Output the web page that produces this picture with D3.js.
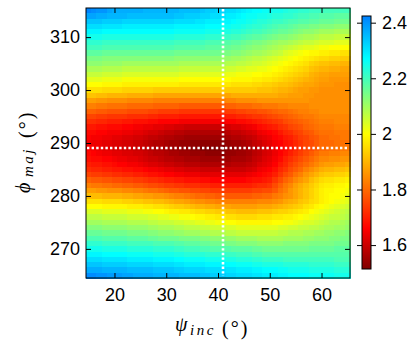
<!DOCTYPE html>
<html>
<head>
<meta charset="utf-8">
<script src="https://cdn.jsdelivr.net/npm/d3@7"></script>
<style>
body { margin: 0; background: #fff; }
svg { display: block; }
.tick text { font-family: "Liberation Sans", Arial, Helvetica, sans-serif; font-size: 18px; fill: #000; }
.tick line { stroke: #000; }
.lab { font-family: "Liberation Serif", "DejaVu Serif", serif; font-style: italic; fill: #000; }
</style>
</head>
<body>
<svg id="chart" width="415" height="349"></svg>
<script>
// grid axes (degrees)
var psiInc = [15,16,17,18,19,20,21,22,23,24,25,26,27,28,29,30,31,32,33,34,35,36,37,38,39,40,
  41,42,43,44,45,46,47,48,49,50,51,52,53,54,55,56,57,58,59,60,61,62,63,64,65];
var phiMaj = [315,314,313,312,311,310,309,308,307,306,305,304,303,302,301,300,299,298,297,296,
  295,294,293,292,291,290,289,288,287,286,285,284,283,282,281,280,279,278,277,276,275,274,273,
  272,271,270,269,268,267,266,265];

// misfit values, one row per phiMaj (top to bottom), one column per psiInc
var misfit = [
[2.42,2.41,2.40,2.40,2.38, 2.37,2.37,2.37,2.37,2.37, 2.37,2.36,2.36,2.36,2.36, 2.36,2.36,2.36,2.35,2.35, 2.35,2.35,2.34,2.33,2.33, 2.32,2.32,2.31,2.31,2.30, 2.29,2.28,2.27,2.27,2.26, 2.26,2.25,2.25,2.24,2.23, 2.23,2.22,2.22,2.21,2.21, 2.21,2.20,2.20,2.20,2.20,2.20],
[2.38,2.38,2.37,2.37,2.36, 2.36,2.36,2.36,2.35,2.35, 2.35,2.35,2.35,2.35,2.35, 2.35,2.35,2.34,2.34,2.33, 2.33,2.33,2.32,2.32,2.31, 2.31,2.30,2.29,2.29,2.28, 2.27,2.26,2.26,2.25,2.25, 2.24,2.23,2.23,2.22,2.22, 2.21,2.20,2.20,2.19,2.19, 2.18,2.18,2.18,2.17,2.17,2.17],
[2.34,2.34,2.34,2.33,2.33, 2.33,2.33,2.32,2.32,2.32, 2.32,2.32,2.32,2.32,2.32, 2.32,2.32,2.31,2.31,2.31, 2.31,2.30,2.30,2.29,2.29, 2.29,2.28,2.28,2.27,2.26, 2.26,2.25,2.24,2.23,2.23, 2.22,2.21,2.21,2.20,2.19, 2.19,2.18,2.18,2.17,2.17, 2.16,2.16,2.16,2.15,2.15,2.15],
[2.31,2.31,2.31,2.30,2.30, 2.30,2.30,2.29,2.29,2.29, 2.29,2.29,2.29,2.29,2.29, 2.29,2.29,2.28,2.28,2.28, 2.28,2.28,2.28,2.27,2.27, 2.27,2.26,2.26,2.25,2.25, 2.24,2.23,2.22,2.22,2.21, 2.20,2.19,2.18,2.18,2.17, 2.16,2.15,2.15,2.14,2.14, 2.13,2.13,2.13,2.12,2.12,2.12],
[2.28,2.28,2.28,2.27,2.27, 2.27,2.27,2.27,2.27,2.27, 2.27,2.27,2.27,2.27,2.27, 2.27,2.27,2.26,2.26,2.26, 2.26,2.26,2.26,2.25,2.25, 2.25,2.24,2.24,2.23,2.23, 2.22,2.21,2.20,2.20,2.19, 2.18,2.17,2.16,2.16,2.15, 2.14,2.13,2.12,2.12,2.11, 2.10,2.10,2.10,2.09,2.09,2.09],
[2.25,2.25,2.25,2.24,2.24, 2.24,2.24,2.24,2.24,2.24, 2.24,2.24,2.24,2.24,2.24, 2.24,2.24,2.23,2.23,2.23, 2.23,2.23,2.23,2.22,2.22, 2.22,2.21,2.21,2.20,2.20, 2.19,2.18,2.17,2.17,2.16, 2.15,2.14,2.13,2.13,2.12, 2.11,2.10,2.09,2.09,2.08, 2.07,2.07,2.07,2.06,2.06,2.06],
[2.22,2.22,2.22,2.21,2.21, 2.21,2.21,2.21,2.21,2.21, 2.21,2.21,2.21,2.21,2.21, 2.21,2.21,2.20,2.20,2.20, 2.20,2.20,2.20,2.19,2.19, 2.19,2.18,2.18,2.17,2.17, 2.16,2.15,2.14,2.14,2.13, 2.12,2.11,2.10,2.10,2.09, 2.08,2.07,2.06,2.06,2.05, 2.04,2.04,2.04,2.03,2.03,2.03],
[2.20,2.20,2.20,2.19,2.19, 2.19,2.19,2.19,2.19,2.19, 2.19,2.19,2.19,2.19,2.19, 2.19,2.19,2.18,2.18,2.18, 2.18,2.18,2.18,2.17,2.17, 2.17,2.16,2.16,2.15,2.15, 2.14,2.13,2.12,2.12,2.11, 2.10,2.09,2.08,2.07,2.06, 2.05,2.04,2.03,2.03,2.02, 2.01,2.01,2.00,2.00,2.00,2.00],
[2.17,2.17,2.17,2.16,2.16, 2.16,2.16,2.16,2.16,2.16, 2.16,2.16,2.16,2.16,2.16, 2.16,2.16,2.15,2.15,2.15, 2.15,2.15,2.15,2.15,2.15, 2.15,2.14,2.14,2.13,2.13, 2.12,2.11,2.10,2.10,2.09, 2.08,2.07,2.06,2.04,2.03, 2.02,2.01,2.00,1.99,1.99, 1.98,1.98,1.97,1.97,1.96,1.96],
[2.14,2.14,2.14,2.13,2.13, 2.13,2.13,2.13,2.13,2.13, 2.13,2.13,2.13,2.13,2.13, 2.13,2.13,2.12,2.12,2.12, 2.12,2.12,2.12,2.12,2.12, 2.12,2.11,2.11,2.10,2.10, 2.09,2.08,2.07,2.07,2.06, 2.05,2.04,2.03,2.02,2.01, 2.00,1.99,1.98,1.97,1.96, 1.95,1.95,1.94,1.94,1.93,1.93],
[2.12,2.12,2.12,2.11,2.11, 2.11,2.11,2.10,2.10,2.10, 2.10,2.10,2.10,2.10,2.10, 2.10,2.10,2.10,2.09,2.09, 2.09,2.09,2.09,2.09,2.09, 2.09,2.09,2.08,2.08,2.07, 2.07,2.06,2.05,2.05,2.04, 2.03,2.02,2.01,2.00,1.99, 1.98,1.97,1.96,1.94,1.93, 1.92,1.92,1.91,1.91,1.90,1.90],
[2.09,2.09,2.09,2.08,2.08, 2.08,2.08,2.07,2.07,2.07, 2.07,2.07,2.07,2.07,2.07, 2.07,2.07,2.07,2.06,2.06, 2.06,2.06,2.06,2.06,2.06, 2.06,2.06,2.05,2.05,2.04, 2.04,2.03,2.03,2.02,2.02, 2.01,2.00,1.99,1.98,1.97, 1.96,1.95,1.94,1.92,1.91, 1.90,1.90,1.89,1.89,1.88,1.88],
[2.06,2.06,2.06,2.05,2.05, 2.05,2.05,2.04,2.04,2.04, 2.04,2.04,2.04,2.04,2.04, 2.04,2.04,2.04,2.03,2.03, 2.03,2.03,2.03,2.03,2.03, 2.03,2.03,2.02,2.02,2.01, 2.01,2.01,2.00,2.00,1.99, 1.99,1.98,1.97,1.96,1.95, 1.94,1.93,1.92,1.90,1.89, 1.88,1.88,1.87,1.87,1.87,1.87],
[2.03,2.03,2.03,2.02,2.02, 2.02,2.02,2.01,2.01,2.01, 2.01,2.01,2.01,2.01,2.01, 2.01,2.01,2.01,2.00,2.00, 2.00,2.00,2.00,2.00,2.00, 2.00,2.00,2.00,1.99,1.99, 1.99,1.99,1.98,1.98,1.97, 1.97,1.96,1.95,1.94,1.93, 1.92,1.91,1.90,1.89,1.88, 1.87,1.87,1.86,1.86,1.86,1.86],
[2.00,2.00,2.00,1.99,1.99, 1.99,1.99,1.98,1.98,1.98, 1.98,1.98,1.98,1.98,1.98, 1.98,1.98,1.98,1.97,1.97, 1.97,1.97,1.97,1.97,1.97, 1.97,1.97,1.97,1.96,1.96, 1.96,1.96,1.95,1.95,1.94, 1.94,1.93,1.92,1.92,1.91, 1.90,1.89,1.88,1.88,1.87, 1.86,1.86,1.86,1.85,1.85,1.85],
[1.96,1.96,1.96,1.95,1.95, 1.95,1.95,1.94,1.94,1.94, 1.94,1.94,1.94,1.93,1.93, 1.93,1.93,1.93,1.93,1.93, 1.93,1.93,1.93,1.93,1.93, 1.93,1.93,1.93,1.93,1.93, 1.93,1.93,1.93,1.92,1.92, 1.92,1.91,1.90,1.90,1.89, 1.88,1.87,1.87,1.86,1.86, 1.85,1.85,1.85,1.85,1.85,1.85],
[1.92,1.92,1.91,1.91,1.90, 1.90,1.90,1.90,1.89,1.89, 1.89,1.89,1.89,1.88,1.88, 1.88,1.88,1.88,1.88,1.88, 1.88,1.88,1.88,1.88,1.88, 1.88,1.88,1.88,1.89,1.89, 1.89,1.89,1.89,1.89,1.89, 1.89,1.89,1.88,1.88,1.87, 1.87,1.87,1.86,1.86,1.85, 1.85,1.85,1.85,1.85,1.85,1.85],
[1.87,1.87,1.86,1.86,1.85, 1.85,1.85,1.85,1.84,1.84, 1.84,1.84,1.84,1.83,1.83, 1.83,1.83,1.83,1.83,1.83, 1.83,1.83,1.83,1.83,1.83, 1.83,1.83,1.84,1.84,1.85, 1.85,1.85,1.85,1.86,1.86, 1.86,1.86,1.86,1.86,1.86, 1.86,1.86,1.86,1.85,1.85, 1.85,1.85,1.85,1.85,1.85,1.85],
[1.83,1.83,1.82,1.82,1.81, 1.81,1.81,1.81,1.80,1.80, 1.80,1.80,1.80,1.79,1.79, 1.79,1.79,1.79,1.78,1.78, 1.78,1.78,1.78,1.78,1.78, 1.78,1.78,1.79,1.79,1.80, 1.80,1.80,1.81,1.81,1.82, 1.82,1.82,1.83,1.83,1.84, 1.84,1.84,1.84,1.85,1.85, 1.85,1.85,1.85,1.85,1.85,1.85],
[1.79,1.79,1.78,1.78,1.77, 1.77,1.77,1.77,1.76,1.76, 1.76,1.76,1.75,1.75,1.74, 1.74,1.74,1.74,1.73,1.73, 1.73,1.73,1.73,1.73,1.73, 1.73,1.73,1.74,1.74,1.75, 1.75,1.76,1.76,1.77,1.77, 1.78,1.79,1.80,1.80,1.81, 1.82,1.83,1.83,1.84,1.84, 1.85,1.85,1.85,1.85,1.85,1.85],
[1.75,1.75,1.74,1.74,1.73, 1.73,1.73,1.73,1.72,1.72, 1.72,1.72,1.71,1.71,1.70, 1.70,1.70,1.70,1.69,1.69, 1.69,1.69,1.69,1.69,1.69, 1.69,1.69,1.70,1.70,1.71, 1.71,1.72,1.73,1.73,1.74, 1.75,1.76,1.77,1.78,1.79, 1.80,1.81,1.82,1.82,1.83, 1.84,1.84,1.84,1.84,1.84,1.84],
[1.72,1.72,1.71,1.71,1.70, 1.70,1.70,1.69,1.69,1.68, 1.68,1.68,1.67,1.67,1.66, 1.66,1.66,1.66,1.65,1.65, 1.65,1.65,1.65,1.65,1.65, 1.65,1.65,1.66,1.66,1.67, 1.67,1.68,1.69,1.70,1.71, 1.72,1.73,1.74,1.76,1.77, 1.78,1.79,1.80,1.81,1.82, 1.83,1.83,1.83,1.84,1.84,1.84],
[1.69,1.69,1.68,1.68,1.67, 1.67,1.67,1.66,1.66,1.65, 1.65,1.64,1.64,1.63,1.63, 1.62,1.62,1.61,1.61,1.60, 1.60,1.60,1.60,1.60,1.60, 1.60,1.60,1.61,1.62,1.62, 1.63,1.64,1.65,1.67,1.68, 1.69,1.70,1.72,1.73,1.75, 1.76,1.77,1.79,1.80,1.81, 1.82,1.82,1.82,1.83,1.83,1.83],
[1.67,1.67,1.66,1.66,1.65, 1.65,1.65,1.64,1.64,1.63, 1.63,1.62,1.61,1.61,1.60, 1.59,1.59,1.58,1.58,1.57, 1.57,1.57,1.57,1.57,1.57, 1.57,1.57,1.58,1.59,1.59, 1.60,1.61,1.62,1.64,1.65, 1.66,1.67,1.69,1.71,1.72, 1.74,1.75,1.77,1.78,1.80, 1.81,1.81,1.81,1.82,1.82,1.82],
[1.66,1.65,1.65,1.64,1.64, 1.63,1.63,1.62,1.62,1.61, 1.61,1.60,1.59,1.59,1.58, 1.57,1.57,1.56,1.56,1.55, 1.55,1.55,1.55,1.55,1.55, 1.55,1.55,1.56,1.57,1.57, 1.58,1.59,1.60,1.62,1.63, 1.64,1.66,1.67,1.69,1.70, 1.72,1.74,1.75,1.77,1.78, 1.80,1.80,1.81,1.81,1.82,1.82],
[1.65,1.64,1.64,1.63,1.63, 1.62,1.62,1.61,1.61,1.60, 1.60,1.59,1.58,1.57,1.57, 1.56,1.55,1.55,1.54,1.54, 1.53,1.53,1.53,1.53,1.53, 1.53,1.53,1.54,1.55,1.55, 1.56,1.57,1.59,1.60,1.62, 1.63,1.65,1.66,1.68,1.69, 1.71,1.73,1.75,1.76,1.78, 1.80,1.80,1.80,1.81,1.81,1.81],
[1.66,1.65,1.64,1.63,1.63, 1.62,1.62,1.61,1.61,1.60, 1.60,1.59,1.58,1.57,1.57, 1.56,1.55,1.55,1.54,1.54, 1.53,1.53,1.52,1.52,1.52, 1.52,1.52,1.53,1.54,1.54, 1.55,1.56,1.58,1.59,1.61, 1.62,1.64,1.66,1.67,1.69, 1.71,1.73,1.75,1.76,1.78, 1.80,1.80,1.81,1.81,1.82,1.82],
[1.67,1.66,1.65,1.64,1.64, 1.63,1.63,1.62,1.62,1.61, 1.61,1.60,1.59,1.58,1.58, 1.57,1.56,1.56,1.55,1.55, 1.54,1.54,1.54,1.53,1.53, 1.53,1.53,1.54,1.54,1.55, 1.55,1.56,1.58,1.59,1.61, 1.62,1.64,1.66,1.68,1.70, 1.72,1.74,1.76,1.78,1.80, 1.82,1.82,1.83,1.83,1.84,1.84],
[1.68,1.67,1.67,1.66,1.66, 1.65,1.64,1.64,1.63,1.63, 1.62,1.61,1.60,1.60,1.59, 1.58,1.58,1.57,1.57,1.56, 1.56,1.56,1.55,1.55,1.55, 1.55,1.55,1.55,1.56,1.56, 1.56,1.57,1.59,1.60,1.62, 1.63,1.65,1.67,1.70,1.72, 1.74,1.76,1.78,1.80,1.82, 1.84,1.84,1.85,1.85,1.86,1.86],
[1.70,1.69,1.69,1.68,1.68, 1.67,1.66,1.66,1.65,1.65, 1.64,1.63,1.62,1.62,1.61, 1.60,1.60,1.59,1.59,1.58, 1.58,1.58,1.57,1.57,1.57, 1.57,1.57,1.57,1.58,1.58, 1.58,1.59,1.60,1.62,1.63, 1.64,1.66,1.69,1.71,1.74, 1.76,1.78,1.80,1.82,1.84, 1.86,1.87,1.87,1.88,1.88,1.89],
[1.72,1.71,1.71,1.70,1.70, 1.69,1.69,1.68,1.68,1.67, 1.67,1.66,1.65,1.65,1.64, 1.63,1.63,1.62,1.62,1.61, 1.61,1.61,1.60,1.60,1.60, 1.60,1.60,1.60,1.60,1.60, 1.60,1.61,1.62,1.64,1.65, 1.66,1.68,1.71,1.73,1.76, 1.78,1.80,1.83,1.85,1.87, 1.89,1.90,1.90,1.91,1.91,1.92],
[1.75,1.74,1.74,1.73,1.73, 1.72,1.72,1.71,1.71,1.70, 1.70,1.69,1.68,1.68,1.67, 1.66,1.66,1.65,1.65,1.64, 1.64,1.64,1.63,1.63,1.63, 1.63,1.63,1.63,1.63,1.63, 1.63,1.64,1.65,1.66,1.67, 1.68,1.70,1.73,1.76,1.78, 1.81,1.83,1.86,1.88,1.90, 1.92,1.93,1.93,1.94,1.94,1.95],
[1.79,1.78,1.78,1.77,1.77, 1.76,1.76,1.75,1.75,1.74, 1.74,1.73,1.72,1.72,1.71, 1.70,1.70,1.69,1.69,1.68, 1.68,1.68,1.67,1.67,1.66, 1.66,1.66,1.66,1.66,1.66, 1.66,1.67,1.68,1.68,1.69, 1.70,1.73,1.76,1.79,1.81, 1.84,1.86,1.88,1.91,1.93, 1.95,1.96,1.96,1.97,1.97,1.98],
[1.83,1.82,1.82,1.81,1.81, 1.80,1.80,1.79,1.79,1.78, 1.78,1.77,1.76,1.76,1.75, 1.74,1.74,1.73,1.73,1.72, 1.72,1.72,1.71,1.71,1.70, 1.70,1.70,1.70,1.70,1.70, 1.70,1.70,1.71,1.72,1.72, 1.73,1.76,1.79,1.82,1.84, 1.87,1.89,1.91,1.93,1.95, 1.97,1.98,1.98,1.99,1.99,2.00],
[1.87,1.87,1.86,1.86,1.85, 1.85,1.85,1.84,1.84,1.83, 1.83,1.82,1.81,1.81,1.80, 1.79,1.78,1.78,1.77,1.77, 1.76,1.76,1.75,1.75,1.74, 1.74,1.74,1.74,1.74,1.74, 1.74,1.74,1.75,1.75,1.76, 1.76,1.78,1.81,1.83,1.86, 1.88,1.90,1.92,1.94,1.96, 1.98,1.99,1.99,2.00,2.00,2.01],
[1.91,1.91,1.91,1.90,1.90, 1.90,1.90,1.89,1.89,1.88, 1.88,1.87,1.87,1.86,1.86, 1.85,1.84,1.83,1.83,1.82, 1.81,1.80,1.80,1.79,1.79, 1.78,1.78,1.78,1.78,1.78, 1.78,1.78,1.79,1.79,1.80, 1.80,1.82,1.83,1.85,1.86, 1.88,1.90,1.92,1.94,1.96, 1.98,1.99,2.00,2.00,2.01,2.02],
[1.96,1.96,1.96,1.95,1.95, 1.95,1.95,1.94,1.94,1.93, 1.93,1.92,1.92,1.91,1.91, 1.90,1.89,1.88,1.88,1.87, 1.86,1.85,1.85,1.84,1.84, 1.83,1.83,1.83,1.83,1.83, 1.83,1.83,1.83,1.84,1.84, 1.84,1.85,1.86,1.88,1.89, 1.90,1.92,1.93,1.95,1.96, 1.98,1.99,2.00,2.01,2.02,2.03],
[2.00,2.00,2.00,1.99,1.99, 1.99,1.99,1.99,1.98,1.98, 1.98,1.97,1.97,1.96,1.96, 1.95,1.94,1.93,1.93,1.92, 1.91,1.90,1.90,1.89,1.89, 1.88,1.88,1.88,1.87,1.87, 1.87,1.87,1.87,1.88,1.88, 1.88,1.89,1.90,1.91,1.92, 1.93,1.94,1.96,1.97,1.99, 2.00,2.01,2.02,2.03,2.04,2.05],
[2.04,2.04,2.04,2.03,2.03, 2.03,2.03,2.03,2.02,2.02, 2.02,2.01,2.01,2.00,2.00, 1.99,1.98,1.98,1.97,1.97, 1.96,1.95,1.95,1.94,1.94, 1.93,1.93,1.92,1.92,1.91, 1.91,1.91,1.91,1.92,1.92, 1.92,1.93,1.94,1.94,1.95, 1.96,1.97,1.98,2.00,2.01, 2.02,2.03,2.04,2.05,2.06,2.07],
[2.07,2.07,2.07,2.06,2.06, 2.06,2.06,2.06,2.05,2.05, 2.05,2.05,2.04,2.04,2.03, 2.03,2.02,2.02,2.01,2.01, 2.00,1.99,1.99,1.98,1.98, 1.97,1.97,1.96,1.96,1.95, 1.95,1.95,1.95,1.96,1.96, 1.96,1.97,1.97,1.98,1.98, 1.99,2.00,2.01,2.02,2.03, 2.04,2.05,2.06,2.06,2.07,2.08],
[2.10,2.10,2.10,2.09,2.09, 2.09,2.09,2.09,2.08,2.08, 2.08,2.08,2.07,2.07,2.06, 2.06,2.06,2.05,2.05,2.04, 2.04,2.03,2.03,2.02,2.02, 2.01,2.01,2.00,2.00,1.99, 1.99,1.99,1.99,1.99,1.99, 1.99,2.00,2.00,2.01,2.01, 2.02,2.03,2.04,2.04,2.05, 2.06,2.07,2.08,2.08,2.09,2.10],
[2.13,2.13,2.13,2.12,2.12, 2.12,2.12,2.12,2.11,2.11, 2.11,2.11,2.10,2.10,2.09, 2.09,2.09,2.08,2.08,2.07, 2.07,2.07,2.06,2.06,2.05, 2.05,2.05,2.04,2.04,2.03, 2.03,2.03,2.03,2.03,2.03, 2.03,2.03,2.04,2.04,2.05, 2.05,2.06,2.06,2.07,2.07, 2.08,2.09,2.09,2.10,2.10,2.11],
[2.16,2.16,2.16,2.15,2.15, 2.15,2.15,2.15,2.14,2.14, 2.14,2.14,2.13,2.13,2.12, 2.12,2.12,2.11,2.11,2.10, 2.10,2.10,2.09,2.09,2.08, 2.08,2.08,2.07,2.07,2.06, 2.06,2.06,2.06,2.06,2.06, 2.06,2.06,2.07,2.07,2.08, 2.08,2.08,2.09,2.09,2.10, 2.10,2.11,2.11,2.12,2.12,2.13],
[2.19,2.19,2.19,2.18,2.18, 2.18,2.18,2.18,2.17,2.17, 2.17,2.17,2.16,2.16,2.15, 2.15,2.15,2.15,2.14,2.14, 2.14,2.14,2.13,2.13,2.12, 2.12,2.12,2.11,2.11,2.10, 2.10,2.10,2.10,2.09,2.09, 2.09,2.09,2.09,2.10,2.10, 2.10,2.10,2.11,2.11,2.12, 2.12,2.12,2.13,2.13,2.14,2.14],
[2.22,2.22,2.22,2.21,2.21, 2.21,2.21,2.21,2.20,2.20, 2.20,2.20,2.20,2.19,2.19, 2.19,2.19,2.18,2.18,2.17, 2.17,2.17,2.16,2.16,2.15, 2.15,2.15,2.14,2.14,2.13, 2.13,2.13,2.13,2.12,2.12, 2.12,2.12,2.12,2.13,2.13, 2.13,2.13,2.13,2.14,2.14, 2.14,2.14,2.14,2.15,2.15,2.15],
[2.25,2.25,2.25,2.24,2.24, 2.24,2.24,2.24,2.23,2.23, 2.23,2.23,2.23,2.22,2.22, 2.22,2.22,2.21,2.21,2.20, 2.20,2.20,2.19,2.19,2.18, 2.18,2.18,2.18,2.17,2.17, 2.17,2.17,2.16,2.16,2.15, 2.15,2.15,2.15,2.15,2.15, 2.15,2.15,2.15,2.16,2.16, 2.16,2.16,2.16,2.17,2.17,2.17],
[2.28,2.28,2.28,2.27,2.27, 2.27,2.27,2.27,2.26,2.26, 2.26,2.26,2.26,2.25,2.25, 2.25,2.25,2.24,2.24,2.23, 2.23,2.23,2.23,2.22,2.22, 2.22,2.22,2.21,2.21,2.20, 2.20,2.20,2.19,2.19,2.18, 2.18,2.18,2.18,2.18,2.18, 2.18,2.18,2.18,2.18,2.18, 2.18,2.18,2.18,2.18,2.18,2.18],
[2.31,2.31,2.31,2.30,2.30, 2.30,2.30,2.30,2.29,2.29, 2.29,2.29,2.29,2.28,2.28, 2.28,2.28,2.27,2.27,2.26, 2.26,2.26,2.26,2.25,2.25, 2.25,2.25,2.24,2.24,2.23, 2.23,2.23,2.22,2.22,2.21, 2.21,2.21,2.21,2.20,2.20, 2.20,2.20,2.20,2.20,2.20, 2.20,2.20,2.20,2.19,2.19,2.19],
[2.34,2.34,2.34,2.33,2.33, 2.33,2.33,2.33,2.32,2.32, 2.32,2.32,2.32,2.31,2.31, 2.31,2.31,2.30,2.30,2.29, 2.29,2.29,2.29,2.28,2.28, 2.28,2.28,2.27,2.27,2.26, 2.26,2.26,2.25,2.25,2.24, 2.24,2.24,2.24,2.23,2.23, 2.23,2.23,2.23,2.22,2.22, 2.22,2.22,2.22,2.21,2.21,2.21],
[2.37,2.37,2.37,2.36,2.36, 2.36,2.36,2.36,2.35,2.35, 2.35,2.35,2.35,2.34,2.34, 2.34,2.34,2.33,2.33,2.32, 2.32,2.32,2.32,2.31,2.31, 2.31,2.31,2.30,2.30,2.29, 2.29,2.29,2.28,2.28,2.27, 2.27,2.27,2.26,2.26,2.25, 2.25,2.25,2.25,2.24,2.24, 2.24,2.24,2.24,2.23,2.23,2.23],
[2.41,2.41,2.40,2.40,2.39, 2.39,2.39,2.38,2.38,2.37, 2.37,2.37,2.37,2.36,2.36, 2.36,2.36,2.36,2.35,2.35, 2.35,2.35,2.34,2.34,2.33, 2.33,2.33,2.32,2.32,2.31, 2.31,2.31,2.30,2.30,2.29, 2.29,2.29,2.28,2.28,2.27, 2.27,2.27,2.27,2.26,2.26, 2.26,2.26,2.26,2.25,2.25,2.25]
];

var xTicks = [20, 30, 40, 50, 60];
var yTicks = [270, 280, 290, 300, 310];
var cbTicks = [1.6, 1.8, 2, 2.2, 2.4];
var bestPsi = 41;
var bestPhi = 289;

// flipped jet colour map
var cmapValues = [1.514, 1.66, 1.83, 2.0, 2.27, 2.424];
var cmapColors = ["#800000", "#ff0000", "#ff8000", "#ffff00", "#00ffff", "#0080ff"];

var svg = d3.select("#chart");
var plot = {left: 86, right: 350, top: 8, bottom: 278};

var x = d3.scaleLinear().domain([14.5, 65.5]).range([plot.left, plot.right]);
var y = d3.scaleLinear().domain([264.5, 315.5]).range([plot.bottom, plot.top]);
var color = d3.scaleLinear().domain(cmapValues).range(cmapColors)
  .interpolate(d3.interpolateRgb).clamp(true);

// cells
var cells = [];
misfit.forEach(function(row, i) {
  row.forEach(function(v, j) {
    cells.push({psi: psiInc[j], phi: phiMaj[i], v: v});
  });
});
var cw = x(1) - x(0), ch = y(0) - y(1);
svg.append("g").selectAll("rect")
  .data(cells)
  .enter().append("rect")
    .attr("x", d => x(d.psi - 0.5))
    .attr("y", d => y(d.phi + 0.5))
    .attr("width", cw + 0.6)
    .attr("height", ch + 0.6)
    .attr("fill", d => color(d.v))
    .attr("shape-rendering", "crispEdges");

// dotted cross at the best fit
var cross = svg.append("g")
  .attr("stroke", "#fff")
  .attr("stroke-width", 2.6)
  .attr("stroke-dasharray", "2.4,2.2");
cross.append("line")
  .attr("x1", Math.round(x(bestPsi))).attr("x2", Math.round(x(bestPsi)))
  .attr("y1", plot.top + 1).attr("y2", plot.bottom - 2);
cross.append("line")
  .attr("x1", plot.left + 1).attr("x2", plot.right - 2)
  .attr("y1", Math.round(y(bestPhi))).attr("y2", Math.round(y(bestPhi)));

// axes, ticks pointing inward on all four sides
function clean(g) { g.select(".domain").remove(); }
svg.append("g")
  .attr("transform", `translate(0,${plot.bottom})`)
  .call(d3.axisBottom(x).tickValues(xTicks).tickSizeInner(-5).tickSizeOuter(0).tickPadding(10))
  .call(clean);
svg.append("g")
  .attr("transform", `translate(0,${plot.top})`)
  .call(d3.axisTop(x).tickValues(xTicks).tickSizeInner(-5).tickSizeOuter(0).tickFormat(""))
  .call(clean);
svg.append("g")
  .attr("transform", `translate(${plot.left},0)`)
  .call(d3.axisLeft(y).tickValues(yTicks).tickSizeInner(-5).tickSizeOuter(0).tickPadding(6))
  .call(clean);
svg.append("g")
  .attr("transform", `translate(${plot.right},0)`)
  .call(d3.axisRight(y).tickValues(yTicks).tickSizeInner(-5).tickSizeOuter(0).tickFormat(""))
  .call(clean);

svg.append("rect")
  .attr("x", plot.left).attr("y", plot.top)
  .attr("width", plot.right - plot.left).attr("height", plot.bottom - plot.top)
  .attr("fill", "none").attr("stroke", "#000").attr("stroke-width", 1);

// colour bar
var cb = {left: 362, right: 371, top: 16, bottom: 269};
var cbScale = d3.scaleLinear().domain([cmapValues[0], cmapValues[cmapValues.length - 1]])
  .range([cb.bottom, cb.top]);
var grad = svg.append("defs").append("linearGradient")
  .attr("id", "cbgrad").attr("x1", 0).attr("y1", 1).attr("x2", 0).attr("y2", 0);
grad.selectAll("stop")
  .data(cmapValues)
  .enter().append("stop")
    .attr("offset", d => (d - cmapValues[0]) / (cmapValues[cmapValues.length - 1] - cmapValues[0]))
    .attr("stop-color", d => color(d));
svg.append("rect")
  .attr("x", cb.left).attr("y", cb.top)
  .attr("width", cb.right - cb.left).attr("height", cb.bottom - cb.top)
  .attr("fill", "url(#cbgrad)").attr("stroke", "#000").attr("stroke-width", 1);
svg.append("g")
  .attr("transform", `translate(${cb.right},0)`)
  .call(d3.axisRight(cbScale).tickValues(cbTicks).tickSizeInner(5).tickSizeOuter(0)
    .tickPadding(6).tickFormat(d => String(d)))
  .call(clean);
svg.append("g")
  .attr("transform", `translate(${cb.left},0)`)
  .call(d3.axisLeft(cbScale).tickValues(cbTicks).tickSizeInner(5).tickSizeOuter(0).tickFormat(""))
  .call(clean);

// axis labels
var xl = svg.append("g").attr("class", "lab");
xl.append("text").attr("x", 175).attr("y", 331).attr("font-size", 20).text("\u03c8");
xl.append("text").attr("x", 190).attr("y", 335).attr("font-size", 15)
  .attr("letter-spacing", 2.5).text("inc");
xl.append("text").attr("x", 222).attr("y", 335).attr("font-size", 20)
  .attr("font-style", "normal").attr("letter-spacing", 2).text("(\u00b0)");

var yl = svg.append("g").attr("class", "lab").attr("transform", "translate(30,0) rotate(-90)");
yl.append("text").attr("x", -193).attr("y", 0).attr("font-size", 20).text("\u03d5");
yl.append("text").attr("x", -177).attr("y", 3).attr("font-size", 15)
  .attr("letter-spacing", 2.5).text("maj");
yl.append("text").attr("x", -138).attr("y", 3).attr("font-size", 20)
  .attr("font-style", "normal").attr("letter-spacing", 2).text("(\u00b0)");
</script>
</body>
</html>
